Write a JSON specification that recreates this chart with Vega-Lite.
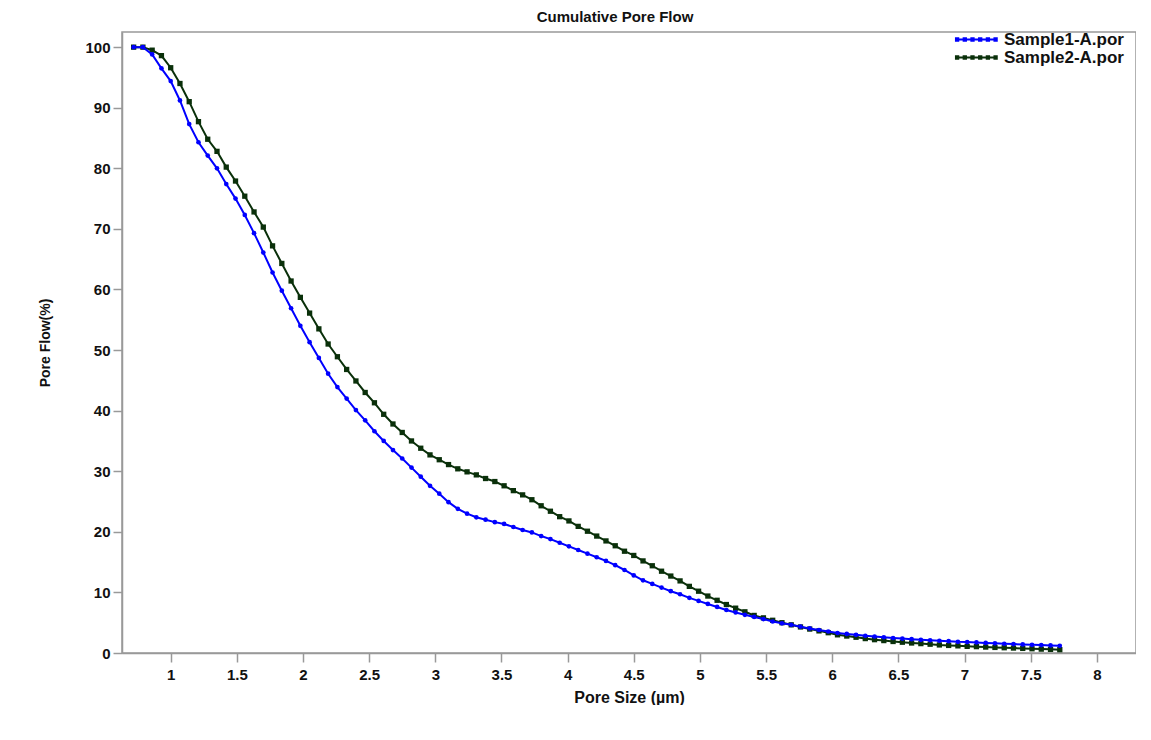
{
  "$schema": "https://vega.github.io/schema/vega-lite/v6.json",
  "width": 1014,
  "height": 621,
  "padding": {"left": 38, "top": 10, "right": 0, "bottom": 0},
  "background": "white",
  "title": {"text": "Cumulative Pore Flow", "font": "Liberation Sans", "fontSize": 15, "fontWeight": "bold", "color": "#111", "offset": 6, "dx": -14},
  "config": {
    "view": {"stroke": "#999", "strokeWidth": 1.5},
    "axis": {"grid": false, "domainColor": "#999", "domainWidth": 1.5, "tickColor": "#999", "tickWidth": 1.5, "tickSize": 9, "labelFont": "Liberation Sans", "labelFontSize": 15, "labelFontWeight": "bold", "labelColor": "#111", "titleFont": "Liberation Sans", "titleFontWeight": "bold", "titleColor": "#111"}
  },
  "datasets": {
    "s2": [
      [0.72,100],[0.79,100],[0.86,99.5],[0.93,98.6],[1.00,96.6],[1.07,94.0],[1.14,91.0],[1.21,87.7],[1.28,84.8],[1.35,82.8],[1.42,80.2],[1.49,77.9],[1.56,75.4],[1.63,72.8],[1.70,70.3],[1.77,67.2],[1.84,64.3],[1.91,61.4],[1.98,58.7],[2.05,56.1],[2.12,53.5],[2.19,51.0],[2.26,48.9],[2.33,46.8],[2.40,44.9],[2.47,43.0],[2.54,41.3],[2.61,39.4],[2.68,37.8],[2.75,36.4],[2.82,35.0],[2.89,33.8],[2.96,32.7],[3.03,31.9],[3.10,31.1],[3.17,30.4],[3.24,29.9],[3.31,29.4],[3.38,28.8],[3.45,28.3],[3.52,27.6],[3.59,26.8],[3.66,26.1],[3.73,25.3],[3.80,24.3],[3.87,23.4],[3.94,22.5],[4.01,21.8],[4.08,20.9],[4.15,20.1],[4.22,19.3],[4.29,18.5],[4.36,17.7],[4.43,16.8],[4.50,16.1],[4.57,15.2],[4.64,14.4],[4.71,13.5],[4.78,12.7],[4.85,11.9],[4.92,11.0],[4.99,10.2],[5.06,9.4],[5.13,8.7],[5.20,8.0],[5.27,7.4],[5.34,6.8],[5.41,6.2],[5.48,5.8],[5.55,5.4],[5.62,5.0],[5.69,4.65],[5.76,4.3],[5.83,3.95],[5.90,3.65],[5.97,3.35],[6.04,3.0],[6.11,2.8],[6.18,2.6],[6.25,2.38],[6.32,2.2],[6.39,2.05],[6.46,1.9],[6.53,1.78],[6.60,1.65],[6.67,1.55],[6.74,1.45],[6.81,1.33],[6.88,1.25],[6.95,1.18],[7.02,1.1],[7.09,1.05],[7.16,0.98],[7.23,0.92],[7.30,0.87],[7.37,0.82],[7.44,0.76],[7.51,0.7],[7.58,0.64],[7.65,0.6],[7.72,0.55]
    ],
    "s1": [
      [0.72,100],[0.79,100],[0.86,98.8],[0.93,96.5],[1.00,94.4],[1.07,91.2],[1.14,87.3],[1.21,84.3],[1.28,82.1],[1.35,80.0],[1.42,77.4],[1.49,75.0],[1.56,72.3],[1.63,69.3],[1.70,66.1],[1.77,62.8],[1.84,59.8],[1.91,56.9],[1.98,54.0],[2.05,51.3],[2.12,48.7],[2.19,46.1],[2.26,43.9],[2.33,42.0],[2.40,40.1],[2.47,38.4],[2.54,36.6],[2.61,35.0],[2.68,33.5],[2.75,32.1],[2.82,30.6],[2.89,29.1],[2.96,27.6],[3.03,26.3],[3.10,24.9],[3.17,23.8],[3.24,23.0],[3.31,22.4],[3.38,22.0],[3.45,21.6],[3.52,21.3],[3.59,20.8],[3.66,20.3],[3.73,19.9],[3.80,19.3],[3.87,18.8],[3.94,18.2],[4.01,17.6],[4.08,17.0],[4.15,16.4],[4.22,15.8],[4.29,15.2],[4.36,14.5],[4.43,13.7],[4.50,12.8],[4.57,12.0],[4.64,11.4],[4.71,10.8],[4.78,10.2],[4.85,9.7],[4.92,9.1],[4.99,8.6],[5.06,8.1],[5.13,7.6],[5.20,7.1],[5.27,6.7],[5.34,6.3],[5.41,5.95],[5.48,5.6],[5.55,5.2],[5.62,4.9],[5.69,4.65],[5.76,4.35],[5.83,4.05],[5.90,3.8],[5.97,3.55],[6.04,3.3],[6.11,3.15],[6.18,3.0],[6.25,2.85],[6.32,2.72],[6.39,2.6],[6.46,2.48],[6.53,2.38],[6.60,2.28],[6.67,2.18],[6.74,2.1],[6.81,2.02],[6.88,1.95],[6.95,1.85],[7.02,1.8],[7.09,1.74],[7.16,1.67],[7.23,1.6],[7.30,1.53],[7.37,1.47],[7.44,1.41],[7.51,1.35],[7.58,1.3],[7.65,1.25],[7.72,1.2]
    ]
  },
  "data": {"values": []},
  "layer": [
    {
      "data": {"name": "s2"},
      "transform": [{"calculate": "datum[0]", "as": "size"}, {"calculate": "datum[1]", "as": "flow"}, {"calculate": "'Sample2-A.por'", "as": "sample"}],
      "layer": [
        {"mark": {"type": "line", "strokeWidth": 2}, "encoding": {}},
        {"mark": {"type": "point", "filled": true, "shape": "square", "size": 28, "opacity": 1}, "encoding": {}}
      ],
      "encoding": {
        "x": {"field": "size", "type": "quantitative"},
        "y": {"field": "flow", "type": "quantitative"},
        "color": {"field": "sample", "type": "nominal"}
      }
    },
    {
      "data": {"name": "s1"},
      "transform": [{"calculate": "datum[0]", "as": "size"}, {"calculate": "datum[1]", "as": "flow"}, {"calculate": "'Sample1-A.por'", "as": "sample"}],
      "layer": [
        {"mark": {"type": "line", "strokeWidth": 2}, "encoding": {}},
        {"mark": {"type": "point", "filled": true, "shape": "circle", "size": 22, "opacity": 1}, "encoding": {}}
      ],
      "encoding": {
        "x": {"field": "size", "type": "quantitative", "scale": {"domain": [0.632, 8.296], "nice": false, "zero": false}, "axis": {"title": "Pore Size (µm)", "titleFontSize": 16, "format": "~g", "values": [1,1.5,2,2.5,3,3.5,4,4.5,5,5.5,6,6.5,7,7.5,8], "labelPadding": 5, "titlePadding": 7}},
        "y": {"field": "flow", "type": "quantitative", "scale": {"domain": [0, 102.5], "nice": false}, "axis": {"title": "Pore Flow(%)", "titleFontSize": 14, "values": [0,10,20,30,40,50,60,70,80,90,100], "labelPadding": 3, "titlePadding": 32}},
        "color": {
          "field": "sample", "type": "nominal",
          "scale": {"domain": ["Sample1-A.por", "Sample2-A.por"], "range": ["#0000ff", "#0a300a"]},
          "legend": {"title": null, "orient": "none", "legendX": 863, "legendY": -1, "padding": 0, "rowPadding": 0, "labelFont": "Liberation Sans", "labelFontSize": 17, "labelFontWeight": "bold", "labelColor": "#111", "labelOffset": 2, "symbolType": "M-5.4,0L0.6,0M-5.35,-0.15h0.3v0.3h-0.3zM-4.25,-0.15h0.3v0.3h-0.3zM-3.15,-0.15h0.3v0.3h-0.3zM-2.05,-0.15h0.3v0.3h-0.3zM-0.95,-0.15h0.3v0.3h-0.3zM0.15,-0.15h0.3v0.3h-0.3z", "symbolSize": 196, "symbolStrokeWidth": 2.2}
        }
      }
    }
  ]
}
